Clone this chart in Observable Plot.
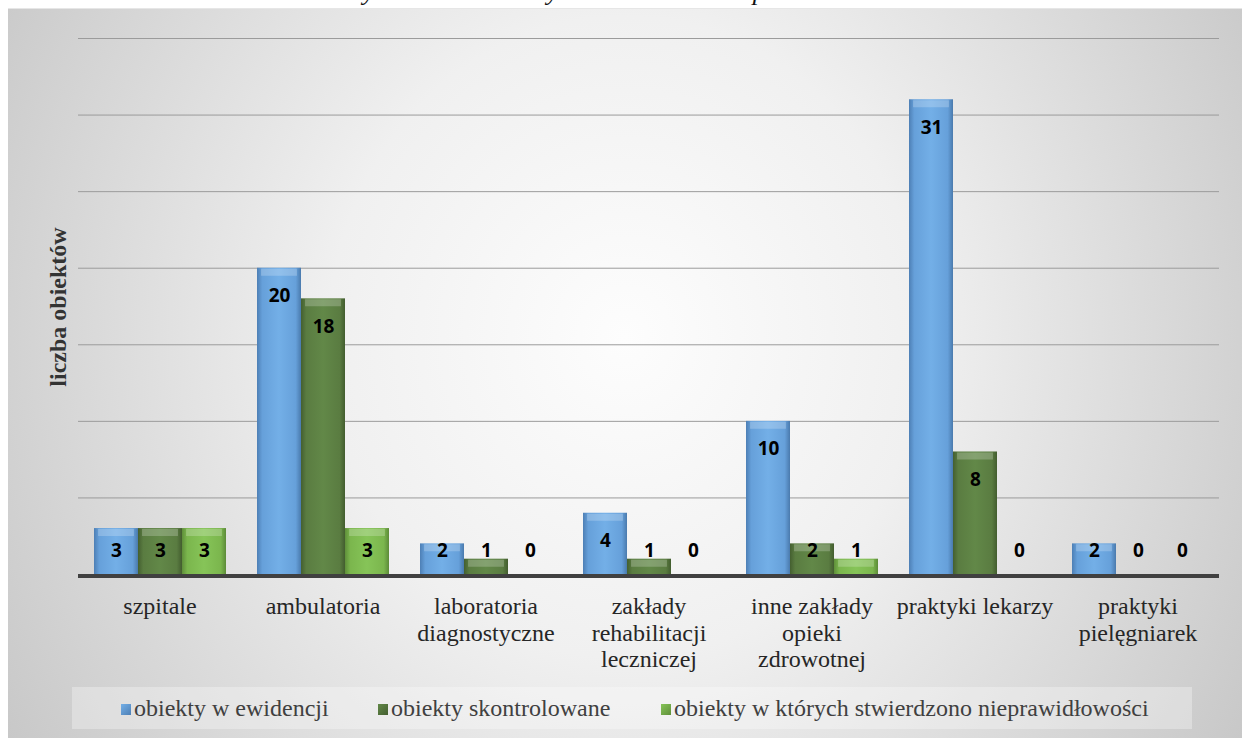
<!DOCTYPE html>
<html><head><meta charset="utf-8">
<script src="https://cdn.jsdelivr.net/npm/d3@7"></script>
<script src="https://cdn.jsdelivr.net/npm/@observablehq/plot@0.6"></script>
<style>
body{margin:0;background:#fff;width:1242px;height:738px;position:relative;overflow:hidden;font-family:'Liberation Serif','Times New Roman',serif;font-weight:400;}
#title{position:absolute;left:0;top:0;width:1242px;height:7px;overflow:hidden;}
#title span{position:absolute;left:160px;top:-21px;font-style:italic;font-size:26px;line-height:26px;white-space:nowrap;color:#111;font-family:'Liberation Serif','Times New Roman',serif;}
#box{position:absolute;left:8px;top:8px;width:1234px;height:730px;overflow:hidden;
 background:radial-gradient(ellipse 60% 110% at 50% 45%, #fdfdfd 0%, #f0f0f0 40%, #c6c6c6 100%);
 border-top:1px solid #e6e6e6;box-sizing:border-box;}
#chart{position:absolute;left:0;top:0;}
#ylabel{position:absolute;left:50px;top:298px;transform:translate(-50%,-50%) rotate(-90deg);white-space:nowrap;font-weight:bold;font-size:24px;color:#333;font-family:'Liberation Serif','Times New Roman',serif;}
#legendband{position:absolute;left:64px;top:678px;width:1120px;height:42px;background:rgba(255,255,255,0.3);}
.li{position:absolute;top:684px;display:flex;align-items:center;font-size:24px;color:#404040;white-space:nowrap;line-height:30px;font-family:'Liberation Serif','Times New Roman',serif;font-weight:400;}
.mk{width:10px;height:11px;margin-right:3px;margin-top:2px;}
</style>
</head><body>
<div id="title"><span>w stosunku do liczby obiektów w których stwierdzono nieprawidłowości</span></div>
<div id="box">
  <div id="chart"></div>
  <div id="ylabel">liczba obiektów</div>
  <div id="legendband"></div>
  <div id="legend"></div>
</div>
<script>
const categories = ["szpitale","ambulatoria","laboratoria diagnostyczne","zakłady rehabilitacji leczniczej","inne zakłady opieki zdrowotnej","praktyki lekarzy","praktyki pielęgniarek"];
const tickLabels = ["szpitale","ambulatoria","laboratoria\ndiagnostyczne","zakłady\nrehabilitacji\nleczniczej","inne zakłady\nopieki\nzdrowotnej","praktyki lekarzy","praktyki\npielęgniarek"];
const series = ["obiekty w ewidencji","obiekty skontrolowane","obiekty w których stwierdzono nieprawidłowości"];
const ewidencja = [3,20,2,4,10,31,2];
const skontrolowane = [3,18,1,1,2,8,0];
const nieprawidlowosci = [3,3,0,0,1,0,0];
const yTicks = [5,10,15,20,25,30,35];

const seriesValues = [ewidencja, skontrolowane, nieprawidlowosci];
const gradIds = ["gBlue","gDark","gLight"];
const gradStops = [
  ["#4d7fb5","#66a0da","#73afe7","#66a0da","#4a7aad"],
  ["#445f30","#5a7c41","#628848","#5a7c41","#435d2f"],
  ["#5f8f3a","#7bb64d","#86c458","#7bb64d","#5c8b38"]
];
const data = categories.flatMap((c,i)=>series.map((s,j)=>({cat:c, series:s, value:seriesValues[j][i], k:j})));

const serif = "'Liberation Serif', 'Times New Roman', serif";
const labelStyle = {fx:"cat", x:"series", text:"value", fontFamily:"'Open Sans', sans-serif", fontWeight:"bold", fontSize:19, fill:"#000"};

const plot = Plot.plot({
  width:1234, height:675,
  marginLeft:67, marginRight:20, marginTop:29, marginBottom:110,
  style:{background:"transparent", fontFamily:serif, overflow:"visible"},
  fx:{domain:categories, padding:0, axis:null},
  x:{domain:series, paddingInner:0, paddingOuter:0.32, axis:null},
  y:{domain:[0,35], axis:null},
  marks:[
    Plot.ruleY(yTicks, {stroke:"#9b9b9b", strokeWidth:1}),
    ...series.map((s,j)=>Plot.barY(data.filter(d=>d.k===j && d.value>0), {fx:"cat", x:"series", y:"value", fill:`url(#${gradIds[j]})`})),
    Plot.tickY(data.filter(d=>d.value>0), {fx:"cat", x:"series", y:"value", stroke:"#ffffff", strokeOpacity:0.22, strokeWidth:7, dy:4, inset:4}),
    Plot.ruleY([0], {stroke:"#404040", strokeWidth:4, dy:1.5}),
    Plot.text(data.filter(d=>d.value>=4), {...labelStyle, y:"value", dy:28}),
    Plot.text(data.filter(d=>d.value<4), {...labelStyle, y:0, dy:-24}),
    Plot.axisFx({anchor:"bottom", tickSize:0, tickPadding:21, fontSize:24, fontFamily:serif, lineHeight:1.1, fill:"#262626", label:null,
      tickFormat:d=>tickLabels[categories.indexOf(d)]})
  ]
});
const svg = plot.tagName.toLowerCase()==="svg" ? plot : plot.querySelector("svg");
const defs = d3.select(svg).insert("defs", ":first-child");
gradIds.forEach((id,j)=>{
  const g = defs.append("linearGradient").attr("id", id).attr("x1","0").attr("x2","1").attr("y1","0").attr("y2","0");
  [0,0.12,0.5,0.88,1].forEach((o,t)=>g.append("stop").attr("offset", o).attr("stop-color", gradStops[j][t]));
});
document.getElementById("chart").appendChild(plot);

const legendLefts = [113, 370, 653];
const legend = document.getElementById("legend");
series.forEach((s,j)=>{
  const item = document.createElement("div");
  item.className = "li";
  item.style.left = legendLefts[j] + "px";
  const mk = document.createElement("span");
  mk.className = "mk";
  mk.style.background = `linear-gradient(135deg, ${gradStops[j][2]}, ${gradStops[j][0]})`;
  const tx = document.createElement("span");
  tx.textContent = s;
  item.appendChild(mk); item.appendChild(tx);
  legend.appendChild(item);
});
</script>
</body></html>
